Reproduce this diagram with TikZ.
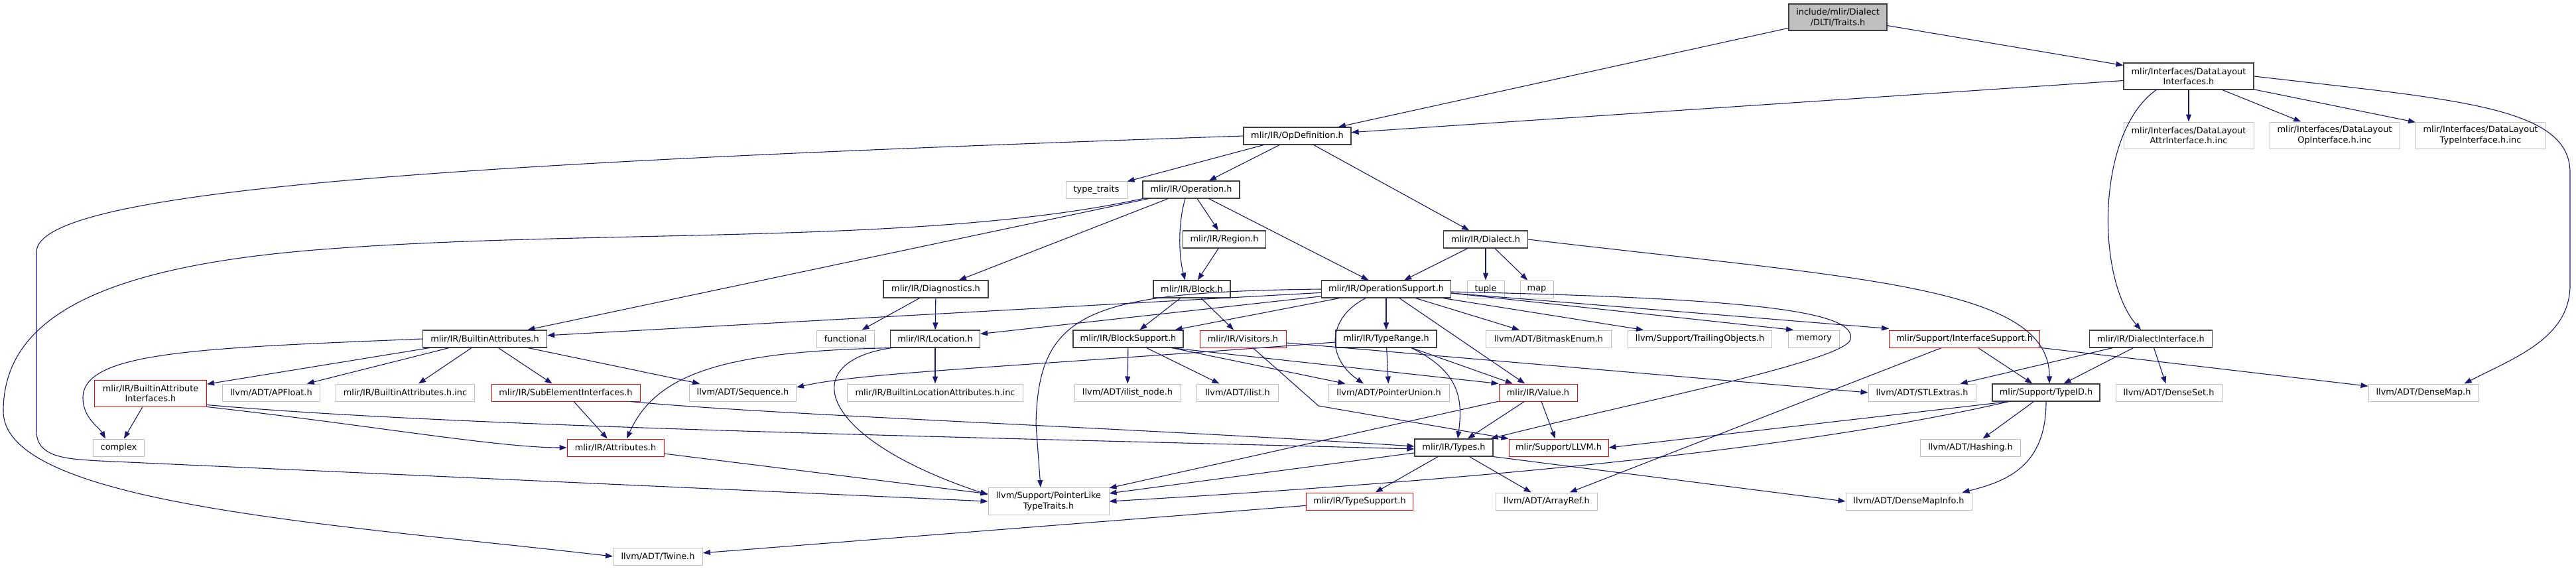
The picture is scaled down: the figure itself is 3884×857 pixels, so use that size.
\documentclass[tikz,border=0pt]{standalone}
\usepackage{fontspec}
\setmainfont{DejaVu Sans}
\usepackage{xcolor}
\usepackage{tikz}
\usetikzlibrary{arrows.meta}
\definecolor{edgeblue}{RGB}{25,25,112}
\definecolor{docgray}{RGB}{191,191,191}
\definecolor{boxdark}{RGB}{64,64,64}

\begin{document}
\begin{tikzpicture}[
    x=1pt, y=-1pt,
    font=\fontsize{12.9}{15.4}\selectfont,
    file/.style={rectangle, draw=boxdark, line width=1.2pt, fill=white, minimum height=26pt, inner sep=2pt, align=center},
    ext/.style={file, draw=docgray, line width=1pt},
    cut/.style={file, draw=red, line width=1pt},
    root/.style={file, fill=docgray},
    tall/.style={minimum height=40pt},
    wd/.style={minimum width=#1pt},
    dep/.style={draw=edgeblue, line width=1.1pt, -{Triangle[length=11pt, width=8pt]}},
]
\useasboundingbox (0,0) rectangle (3884,857);

% Root and data layout interfaces
\node[root, wd=148, tall] (traits) at (2771, 26) {include/mlir/Dialect\\/DLTI/Traits.h};
\node[file, wd=196, tall] (dli) at (3300, 115) {mlir/Interfaces/DataLayout\\Interfaces.h};
\node[ext, wd=196, tall] (attrinc) at (3300, 204) {mlir/Interfaces/DataLayout\\AttrInterface.h.inc};
\node[ext, wd=196, tall] (opinc) at (3520, 204) {mlir/Interfaces/DataLayout\\OpInterface.h.inc};
\node[ext, wd=195, tall] (typeinc) at (3740, 204) {mlir/Interfaces/DataLayout\\TypeInterface.h.inc};

% Upper levels
\node[file, wd=162] (opdef) at (1956, 205) {mlir/IR/OpDefinition.h};
\node[ext, wd=92] (typetraits) at (1653, 286) {type\_traits};
\node[file, wd=146] (operation) at (1796, 286) {mlir/IR/Operation.h};
\node[file, wd=125] (region) at (1846, 361) {mlir/IR/Region.h};
\node[file, wd=127] (dialect) at (2240, 361) {mlir/IR/Dialect.h};
\node[file, wd=158] (diagnostics) at (1411, 436) {mlir/IR/Diagnostics.h};
\node[file, wd=116] (block) at (1797, 436) {mlir/IR/Block.h};
\node[file, wd=195] (opsupport) at (2090, 436) {mlir/IR/OperationSupport.h};
\node[ext, wd=56] (tuple) at (2240, 436) {tuple};
\node[ext, wd=50] (map) at (2317, 436) {map};

% Middle row
\node[file, wd=187] (builtinattrs) at (731, 511) {mlir/IR/BuiltinAttributes.h};
\node[ext, wd=87] (functional) at (1275, 511) {functional};
\node[file, wd=135] (location) at (1410, 511) {mlir/IR/Location.h};
\node[file, wd=166] (blocksupport) at (1701, 511) {mlir/IR/BlockSupport.h};
\node[cut, wd=130] (visitors) at (1874, 511) {mlir/IR/Visitors.h};
\node[file, wd=152] (typerange) at (2090, 511) {mlir/IR/TypeRange.h};
\node[ext, wd=189] (bitmask) at (2335, 511) {llvm/ADT/BitmaskEnum.h};
\node[ext, wd=217] (trailing) at (2563, 511) {llvm/Support/TrailingObjects.h};
\node[ext, wd=77] (memory) at (2735, 511) {memory};
\node[cut, wd=227] (ifsupport) at (2962, 511) {mlir/Support/InterfaceSupport.h};
\node[file, wd=185] (dialectif) at (3243, 511) {mlir/IR/DialectInterface.h};

% Lower rows
\node[cut, wd=169, tall] (battrif) at (227, 593) {mlir/IR/BuiltinAttribute\\Interfaces.h};
\node[ext, wd=147] (apfloat) at (409, 592) {llvm/ADT/APFloat.h};
\node[ext, wd=209] (battrinc) at (611, 592) {mlir/IR/BuiltinAttributes.h.inc};
\node[cut, wd=224] (subelem) at (853, 592) {mlir/IR/SubElementInterfaces.h};
\node[ext, wd=161] (sequence) at (1120, 592) {llvm/ADT/Sequence.h};
\node[ext, wd=265] (blocattrinc) at (1410, 592) {mlir/IR/BuiltinLocationAttributes.h.inc};
\node[ext, wd=160] (ilistnode) at (1700, 592) {llvm/ADT/ilist\_node.h};
\node[ext, wd=123] (ilist) at (1866, 592) {llvm/ADT/ilist.h};
\node[ext, wd=182] (ptrunion) at (2094, 592) {llvm/ADT/PointerUnion.h};
\node[cut, wd=118] (value) at (2319, 592) {mlir/IR/Value.h};
\node[ext, wd=162] (stlextras) at (2898, 592) {llvm/ADT/STLExtras.h};
\node[file, wd=162] (typeid) at (3085, 592) {mlir/Support/TypeID.h};
\node[ext, wd=160] (denseset) at (3270, 592) {llvm/ADT/DenseSet.h};
\node[ext, wd=166] (densemap) at (3654, 592) {llvm/ADT/DenseMap.h};

\node[ext, wd=77] (complex) at (179, 675) {complex};
\node[cut, wd=146] (attributes) at (928, 675) {mlir/IR/Attributes.h};
\node[file, wd=118] (types) at (2192, 675) {mlir/IR/Types.h};
\node[cut, wd=150] (llvmh) at (2350, 675) {mlir/Support/LLVM.h};
\node[ext, wd=151] (hashing) at (2971, 675) {llvm/ADT/Hashing.h};

\node[ext, wd=182, minimum height=41pt] (ptrlike) at (1581, 756) {llvm/Support/PointerLike\\TypeTraits.h};
\node[cut, wd=161] (typesupport) at (2050, 756) {mlir/IR/TypeSupport.h};
\node[ext, wd=153] (arrayref) at (2332, 756) {llvm/ADT/ArrayRef.h};
\node[ext, wd=190] (densemapinfo) at (2878, 756) {llvm/ADT/DenseMapInfo.h};
\node[ext, wd=135] (twine) at (992, 839) {llvm/ADT/Twine.h};

% Root edges
\draw[dep] (traits) -- (opdef);
\draw[dep] (traits) -- (dli);

% DataLayoutInterfaces.h
\draw[dep] (dli) -- (opdef);
\draw[dep] (dli) -- (attrinc);
\draw[dep] (dli) -- (opinc);
\draw[dep] (dli) -- (typeinc);
\draw[dep] ([xshift=-49pt]dli.south) .. controls (3160, 200) and (3160, 420) .. ([xshift=-15pt]dialectif.north);
\draw[dep] (dli.east) .. controls (3700, 150) and (3875, 160) .. (3875, 260) -- (3875, 430) .. controls (3875, 510) and (3790, 540) .. ([xshift=-22pt]densemap.north east);

% OpDefinition.h
\draw[dep] (opdef) -- (typetraits);
\draw[dep] (opdef) -- (operation);
\draw[dep] (opdef) -- (dialect);
\draw[dep] (opdef.west) .. controls (700, 245) and (55, 285) .. (55, 380) -- (55, 650) .. controls (55, 690) and (100, 692) .. (150, 695) -- (ptrlike.west);

% Operation.h
\draw[dep] (operation) -- (builtinattrs);
\draw[dep] (operation.south west) .. controls (1400, 370) and (900, 345) .. (500, 375) .. controls (150, 400) and (5, 480) .. (5, 620) .. controls (5, 760) and (500, 790) .. (twine.west);
\draw[dep] (operation) -- (diagnostics);
\draw[dep] ([xshift=-9pt]operation.south) .. controls (1775, 340) and (1778, 390) .. ([xshift=-10pt]block.north);
\draw[dep] (operation) -- (region);
\draw[dep] (operation) -- (opsupport);
\draw[dep] (region) -- (block);

% Dialect.h
\draw[dep] (dialect) -- (opsupport);
\draw[dep] (dialect) -- (tuple);
\draw[dep] (dialect) -- (map);
\draw[dep] (dialect.east) .. controls (2800, 420) and (3090, 430) .. ([xshift=5pt]typeid.north);

% Diagnostics.h and Block.h
\draw[dep] (diagnostics) -- (functional);
\draw[dep] (diagnostics) -- (location);
\draw[dep] (block) -- (blocksupport);
\draw[dep] (block) -- (visitors);

% OperationSupport.h
\draw[dep] (opsupport) -- (builtinattrs);
\draw[dep] (opsupport) -- (location);
\draw[dep] (opsupport) -- (blocksupport);
\draw[dep] (opsupport.west) .. controls (1640, 440) and (1565, 470) .. (1562, 640) -- ([xshift=-12pt]ptrlike.north);
\draw[dep] ([xshift=-31pt]opsupport.south) .. controls (2000, 480) and (2000, 540) .. ([xshift=-38pt]ptrunion.north);
\draw[dep] (opsupport) -- (typerange);
\draw[dep] (opsupport) -- (value);
\draw[dep] (opsupport) -- (bitmask);
\draw[dep] (opsupport) -- (trailing);
\draw[dep] ([yshift=-6pt]opsupport.east) -- ([xshift=8pt]memory.north west);
\draw[dep] ([yshift=-6pt]opsupport.east) -- ([yshift=2pt]ifsupport.north west);
\draw[dep] ([yshift=-4pt]opsupport.east) .. controls (2650, 450) and (2800, 470) .. (2790, 512) .. controls (2780, 545) and (2450, 610) .. ([xshift=-4pt]types.north east);

% BlockSupport.h and Visitors.h
\draw[dep] (blocksupport) -- (ilistnode);
\draw[dep] (blocksupport) -- (ilist);
\draw[dep] (blocksupport) -- (ptrunion);
\draw[dep] ([xshift=-18pt]blocksupport.south east) -- (value.north west);
\draw[dep] ([yshift=-6pt]visitors.east) -- (stlextras.west);
\draw[dep] ([xshift=15pt]visitors.south) -- (1988, 612) -- (llvmh.north west);

% TypeRange.h
\draw[dep] ([yshift=-5pt]typerange.west) .. controls (1500, 555) and (1300, 562) .. ([yshift=8pt]sequence.east);
\draw[dep] (typerange) -- (ptrunion);
\draw[dep] (typerange) -- (value);
\draw[dep] ([xshift=38pt]typerange.south) .. controls (2200, 560) and (2206, 600) .. ([xshift=6pt]types.north);

% Location.h
\draw[dep] (location) -- (blocattrinc);
\draw[dep] (location.south west) .. controls (1100, 530) and (990, 560) .. ([xshift=17pt]attributes.north);
\draw[dep] ([xshift=3pt]location.south west) .. controls (1200, 545) and (1230, 660) .. ([yshift=10pt]ptrlike.west);

% BuiltinAttributes.h
\draw[dep] (builtinattrs.west) .. controls (300, 525) and (125, 530) .. (125, 600) .. controls (125, 630) and (150, 645) .. ([xshift=-20pt]complex.north);
\draw[dep] (builtinattrs) -- (battrif);
\draw[dep] (builtinattrs) -- (apfloat);
\draw[dep] (builtinattrs) -- (battrinc);
\draw[dep] (builtinattrs) -- (subelem);
\draw[dep] (builtinattrs) -- (sequence);

% Attribute interfaces
\draw[dep] (battrif) -- (complex);
\draw[dep] (battrif.south east) .. controls (550, 640) and (750, 675) .. (attributes.west);
\draw[dep] ([yshift=3pt]battrif.south east) .. controls (700, 645) and (1500, 660) .. ([yshift=-2pt]types.west);
\draw[dep] (subelem) -- (attributes);
\draw[dep] ([xshift=-15pt]subelem.south east) .. controls (1150, 625) and (1700, 645) .. ([yshift=2pt]types.west);
\draw[dep] (attributes) -- (ptrlike);

% Value.h and Types.h
\draw[dep] (value) -- (ptrlike);
\draw[dep] (value) -- (types);
\draw[dep] (value) -- (llvmh);
\draw[dep] (types) -- (ptrlike);
\draw[dep] (types) -- (typesupport);
\draw[dep] (types) -- (arrayref);
\draw[dep] (types.south east) -- (densemapinfo.west);
\draw[dep] (typesupport) -- (twine);

% TypeID.h
\draw[dep] ([xshift=25pt]typeid.south west) -- (llvmh.east);
\draw[dep] ([xshift=25pt]typeid.south west) .. controls (2750, 670) and (2300, 720) .. (ptrlike.east);
\draw[dep] (typeid) -- (hashing);
\draw[dep] (typeid.south) .. controls (3085, 700) and (3030, 725) .. ([xshift=-15pt]densemapinfo.north east);

% DialectInterface.h and InterfaceSupport.h
\draw[dep] (dialectif) -- (stlextras);
\draw[dep] (dialectif) -- (typeid);
\draw[dep] (dialectif) -- (denseset);
\draw[dep] (ifsupport) -- (typeid);
\draw[dep] (ifsupport) -- (arrayref);
\draw[dep] (ifsupport) -- (densemap);

\end{tikzpicture}
\end{document}
